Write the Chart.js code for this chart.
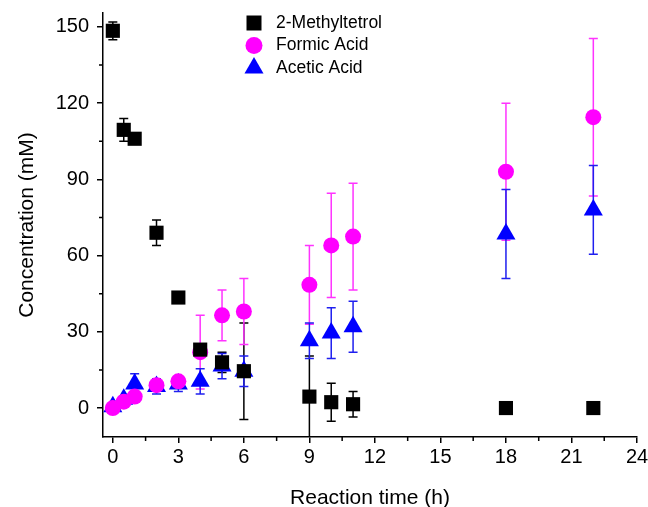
<!DOCTYPE html>
<html><head><meta charset="utf-8">
<script src="https://cdn.jsdelivr.net/npm/chart.js@4"></script>
<style>html,body{margin:0;padding:0;background:#fff}</style>
</head><body>
<canvas id="c" width="648" height="507"></canvas>
<script>
// ---- data ----
const hours = [0, 0.5, 1, 2, 3, 4, 5, 6, 9, 10, 11, 18, 22];
const methyltetrol = [148.5, 109.5, 106, 69, 43.5, 23, 18, 14.5, 4.5, 2.3, 1.5, 0, 0];
const methyltetrolErr = [3.5, 4.5, 0, 5, 0, 2, 4, 19, 16, 7.5, 5, 0, 0];
const formicAcid = [0, 2.5, 4.5, 9, 10.5, 22, 36.5, 38, 48.5, 64, 67.5, 93, 114.5];
const formicAcidErr = [0, 0, 0.5, 1, 1, 14.5, 10, 13, 15.5, 20.5, 21, 27, 31];
const aceticAcid = [0.5, 3.5, 9.5, 8.5, 9.5, 10.5, 16.5, 14.5, 26.5, 29.5, 32, 68.5, 78];
const aceticAcidErr = [0, 1, 4, 3, 3, 5, 5, 6, 7, 10, 10, 17.5, 17.5];
const seriesNames = ['2-Methyltetrol', 'Formic Acid', 'Acetic Acid'];
const xTicks = [0, 3, 6, 9, 12, 15, 18, 21, 24];
const xMinorTicks = [1.5, 4.5, 7.5, 10.5, 13.5, 16.5, 19.5, 22.5];
const yTicks = [0, 30, 60, 90, 120, 150];
const yMinorTicks = [15, 45, 75, 105, 135];

const FONT = "'Liberation Sans', Arial, sans-serif";
const toPts = ys => hours.map((h, i) => ({x: h, y: ys[i]}));

const errorBars = {
  id: 'errorBars',
  beforeDatasetsDraw(chart) {
    const {ctx, chartArea: a} = chart;
    const xs = chart.scales.x, ys = chart.scales.y;
    ctx.save();
    ctx.beginPath(); ctx.rect(a.left, a.top, a.right - a.left, a.bottom - a.top); ctx.clip();
    chart.data.datasets.forEach(ds => {
      ctx.strokeStyle = ds.errColor; ctx.lineWidth = 1.5;
      ds.data.forEach((p, i) => {
        const e = ds.err[i]; if (!e) return;
        const px = xs.getPixelForValue(p.x);
        const t = ys.getPixelForValue(p.y + e), b = ys.getPixelForValue(p.y - e);
        ctx.beginPath();
        ctx.moveTo(px, t); ctx.lineTo(px, b);
        ctx.moveTo(px - 4.5, t); ctx.lineTo(px + 4.5, t);
        ctx.moveTo(px - 4.5, b); ctx.lineTo(px + 4.5, b);
        ctx.stroke();
      });
    });
    ctx.restore();
  }
};

const minorTicks = {
  id: 'minorTicks',
  afterDraw(chart) {
    const {ctx, chartArea: a} = chart;
    const xs = chart.scales.x, ys = chart.scales.y;
    ctx.save(); ctx.strokeStyle = '#000'; ctx.lineWidth = 1.5;
    ctx.beginPath();
    xMinorTicks.forEach(v => { const p = xs.getPixelForValue(v); ctx.moveTo(p, a.bottom); ctx.lineTo(p, a.bottom + 4); });
    yMinorTicks.forEach(v => { const p = ys.getPixelForValue(v); ctx.moveTo(a.left, p); ctx.lineTo(a.left - 4, p); });
    ctx.stroke();
    // legend
    const rows = [23, 45.5, 68];
    chart.data.datasets.forEach((ds, i) => {
      const cx = 254, cy = rows[i];
      ctx.fillStyle = ds.backgroundColor;
      ctx.beginPath();
      if (ds.pointStyle === 'rect') { ctx.rect(cx - 7.5, cy - 7.5, 15, 15); }
      else if (ds.pointStyle === 'circle') { ctx.arc(cx, cy, 8.5, 0, Math.PI * 2); }
      else { const r = 11; ctx.moveTo(cx, cy - r); ctx.lineTo(cx + r * 0.866, cy + r / 2); ctx.lineTo(cx - r * 0.866, cy + r / 2); ctx.closePath(); }
      ctx.fill();
      ctx.fillStyle = '#000'; ctx.font = '17.5px ' + FONT; ctx.textBaseline = 'middle'; ctx.textAlign = 'left';
      ctx.fillText(seriesNames[i], 276, cy);
    });
    ctx.restore();
  }
};

new Chart(document.getElementById('c'), {
  type: 'scatter',
  data: {
    datasets: [
      {label: seriesNames[0], data: toPts(methyltetrol), err: methyltetrolErr, errColor: '#000000',
       pointStyle: 'rect', pointRadius: 10, backgroundColor: '#000000', borderColor: '#000000', borderWidth: 0},
      {label: seriesNames[1], data: toPts(formicAcid), err: formicAcidErr, errColor: '#FF33FF',
       pointStyle: 'circle', pointRadius: 8, backgroundColor: '#FF00FF', borderColor: '#FF00FF', borderWidth: 0},
      {label: seriesNames[2], data: toPts(aceticAcid), err: aceticAcidErr, errColor: '#1F1FEF',
       pointStyle: 'triangle', pointRadius: 11, backgroundColor: '#0000FF', borderColor: '#0000FF', borderWidth: 0}
    ]
  },
  options: {
    responsive: false, animation: false,
    layout: {padding: {top: 13, right: 11, left: 0, bottom: 0}},
    plugins: {legend: {display: false}, tooltip: {enabled: false}},
    scales: {
      x: {
        type: 'linear', min: -0.45, max: 24,
        afterBuildTicks: s => { s.ticks = xTicks.map(v => ({value: v})); },
        afterFit: s => { s.height = 70; s.paddingLeft = 0; s.paddingRight = 0; },
        ticks: {font: {family: FONT, size: 20}, color: '#000', padding: 2},
        grid: {drawOnChartArea: false, drawTicks: true, tickLength: 6, color: '#000', lineWidth: 1.5},
        border: {display: true, color: '#000', width: 1.5},
        title: {display: true, text: 'Reaction time (h)', font: {family: FONT, size: 21, lineHeight: 0.85}, color: '#000', padding: {top: 0, bottom: 0}}
      },
      y: {
        type: 'linear', min: -11.4, max: 155.5,
        afterBuildTicks: s => { s.ticks = yTicks.map(v => ({value: v})); },
        afterFit: s => { s.width = 103; s.paddingTop = 0; s.paddingBottom = 0; },
        ticks: {font: {family: FONT, size: 20}, color: '#000', padding: 8},
        grid: {drawOnChartArea: false, drawTicks: true, tickLength: 6, color: '#000', lineWidth: 1.5},
        border: {display: true, color: '#000', width: 1.5},
        title: {display: true, text: 'Concentration (mM)', font: {family: FONT, size: 21}, color: '#000', padding: {top: 15, bottom: 0}}
      }
    }
  },
  plugins: [errorBars, minorTicks]
});
</script>
</body></html>
